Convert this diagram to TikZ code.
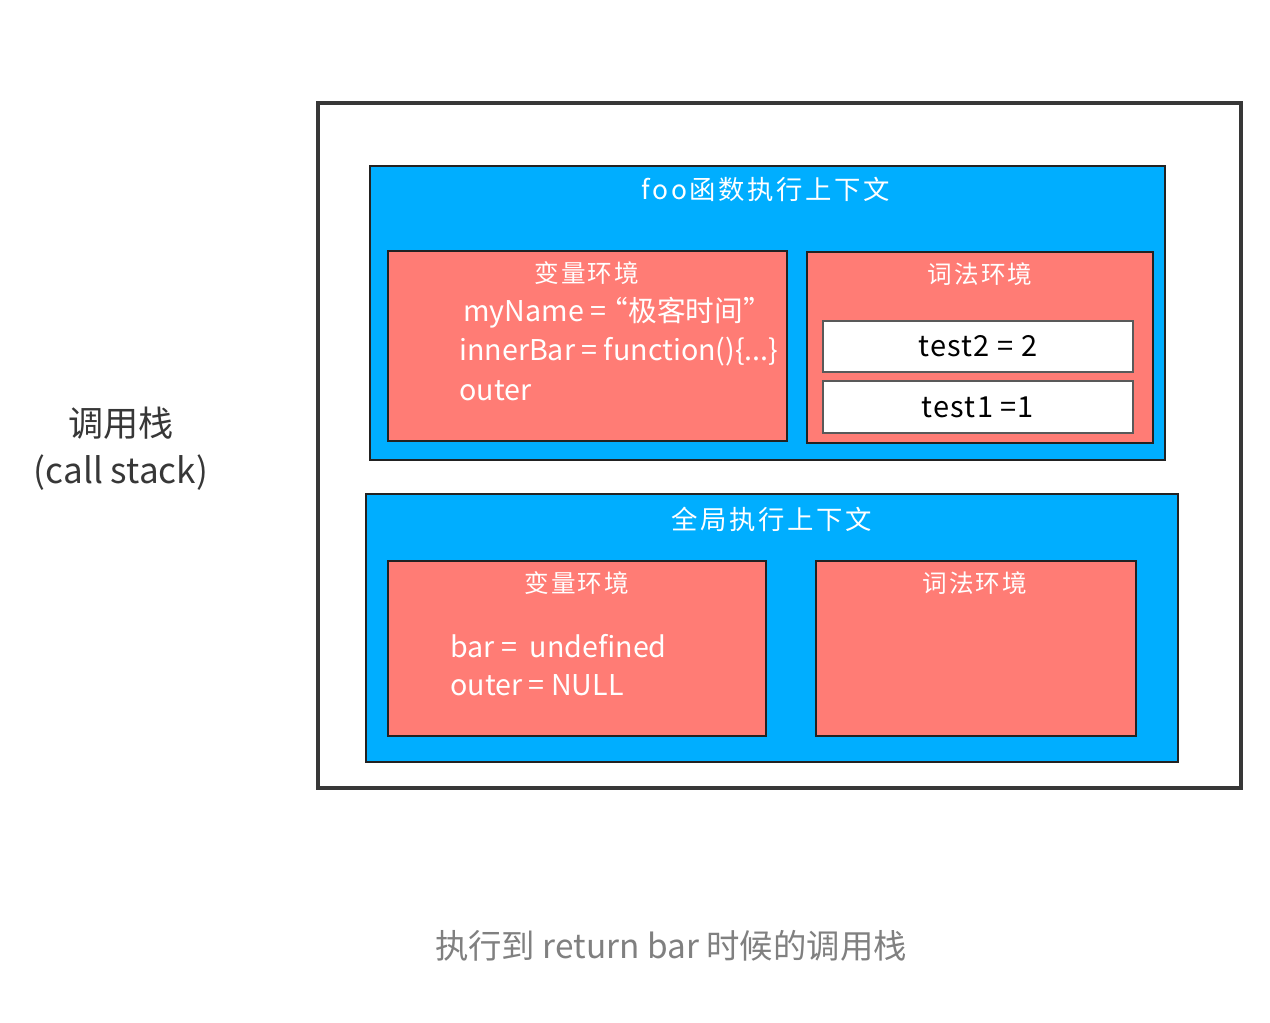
\documentclass[tikz,border=0pt]{standalone}
\usepackage{fontspec}
\setmainfont{Noto Sans CJK SC}
\usetikzlibrary{fit}
\definecolor{ctxblue}{RGB}{0,174,255}
\definecolor{envred}{RGB}{255,124,117}
\definecolor{edge}{RGB}{34,34,34}
\definecolor{capgray}{RGB}{128,128,128}
\definecolor{sidegray}{RGB}{55,55,55}
\tikzset{
  stackbox/.style={draw=sidegray, line width=2.5pt, inner sep=0pt},
  ctxbox/.style={draw=edge, fill=ctxblue, line width=1pt, inner sep=0pt},
  envbox/.style={draw=edge, fill=envred, line width=1.2pt, inner sep=0pt},
  slotbox/.style={draw=edge!75, fill=white, line width=1pt, inner sep=0pt},
  wtitle/.style={text=white, font=\fontsize{14}{16}\selectfont\addfontfeature{LetterSpace=8}, inner sep=0pt},
  wbig/.style={text=white, font=\fontsize{15}{17}\selectfont\addfontfeature{LetterSpace=10}, inner sep=0pt},
  wline/.style={text=white, font=\fontsize{16.3}{19}\selectfont, inner sep=0pt, anchor=west},
  btext/.style={text=black, font=\fontsize{16.5}{19}\selectfont\addfontfeature{LetterSpace=4}, inner sep=0pt},
  side/.style={text=sidegray, font=\fontsize{20}{23}\selectfont, inner sep=0pt},
  caption/.style={text=capgray, font=\fontsize{19}{22}\selectfont, inner sep=0pt},
}
\begin{document}
\begin{tikzpicture}[x=0.02cm,y=-0.02cm]
\useasboundingbox (0,0) rectangle (1270,1022);
% outer call stack frame
\node[stackbox, fit={(318,103) (1241,788)}] (stack) {};
% foo execution context
\node[ctxbox, fit={(370,166) (1165,460)}] (foo) {};
\node[wbig] (footitle) at (766,189) {foo函数执行上下文};
\node[envbox, fit={(388,251) (787,441)}] (foovar) {};
\node[wtitle] (foovart) at (587,273) {变量环境};
\node[wline] (l1) at (463,313) {myName = {\kern-0.45em}“极客时间”};
\node[wline] (l2) at (459,352) {innerBar = function()\{...\}};
\node[wline] (l3) at (459,391) {outer};
\node[envbox, fit={(807,252) (1153,443)}] (foolex) {};
\node[wtitle] (foolext) at (980,274) {词法环境};
\node[slotbox, fit={(823,321) (1133,372)}] (t2) {};
\node[btext] (t2t) at (t2.center) {test2 = 2};
\node[slotbox, fit={(823,381) (1133,433)}] (t1) {};
\node[btext] (t1t) at (t1.center) {test1 =1};
% global execution context
\node[ctxbox, fit={(366,494) (1178,762)}] (glob) {};
\node[wbig] (globt) at (772,519) {全局执行上下文};
\node[envbox, fit={(388,561) (766,736)}] (gvar) {};
\node[wtitle] (gvart) at (577,583) {变量环境};
\node[wline] (g1) at (450,646) {bar =\ \ undefined};
\node[wline] (g2) at (450,685) {outer = NULL};
\node[envbox, fit={(816,561) (1136,736)}] (glex) {};
\node[wtitle] (glext) at (975,583) {词法环境};
% side label
\node[side] (side1) at (121,423) {调用栈};
\node[side] (side2) at (121,473) {(call stack)};
% caption
\node[caption] (cap) at (671,946) {执行到 return bar 时候的调用栈};
\end{tikzpicture}
\end{document}
